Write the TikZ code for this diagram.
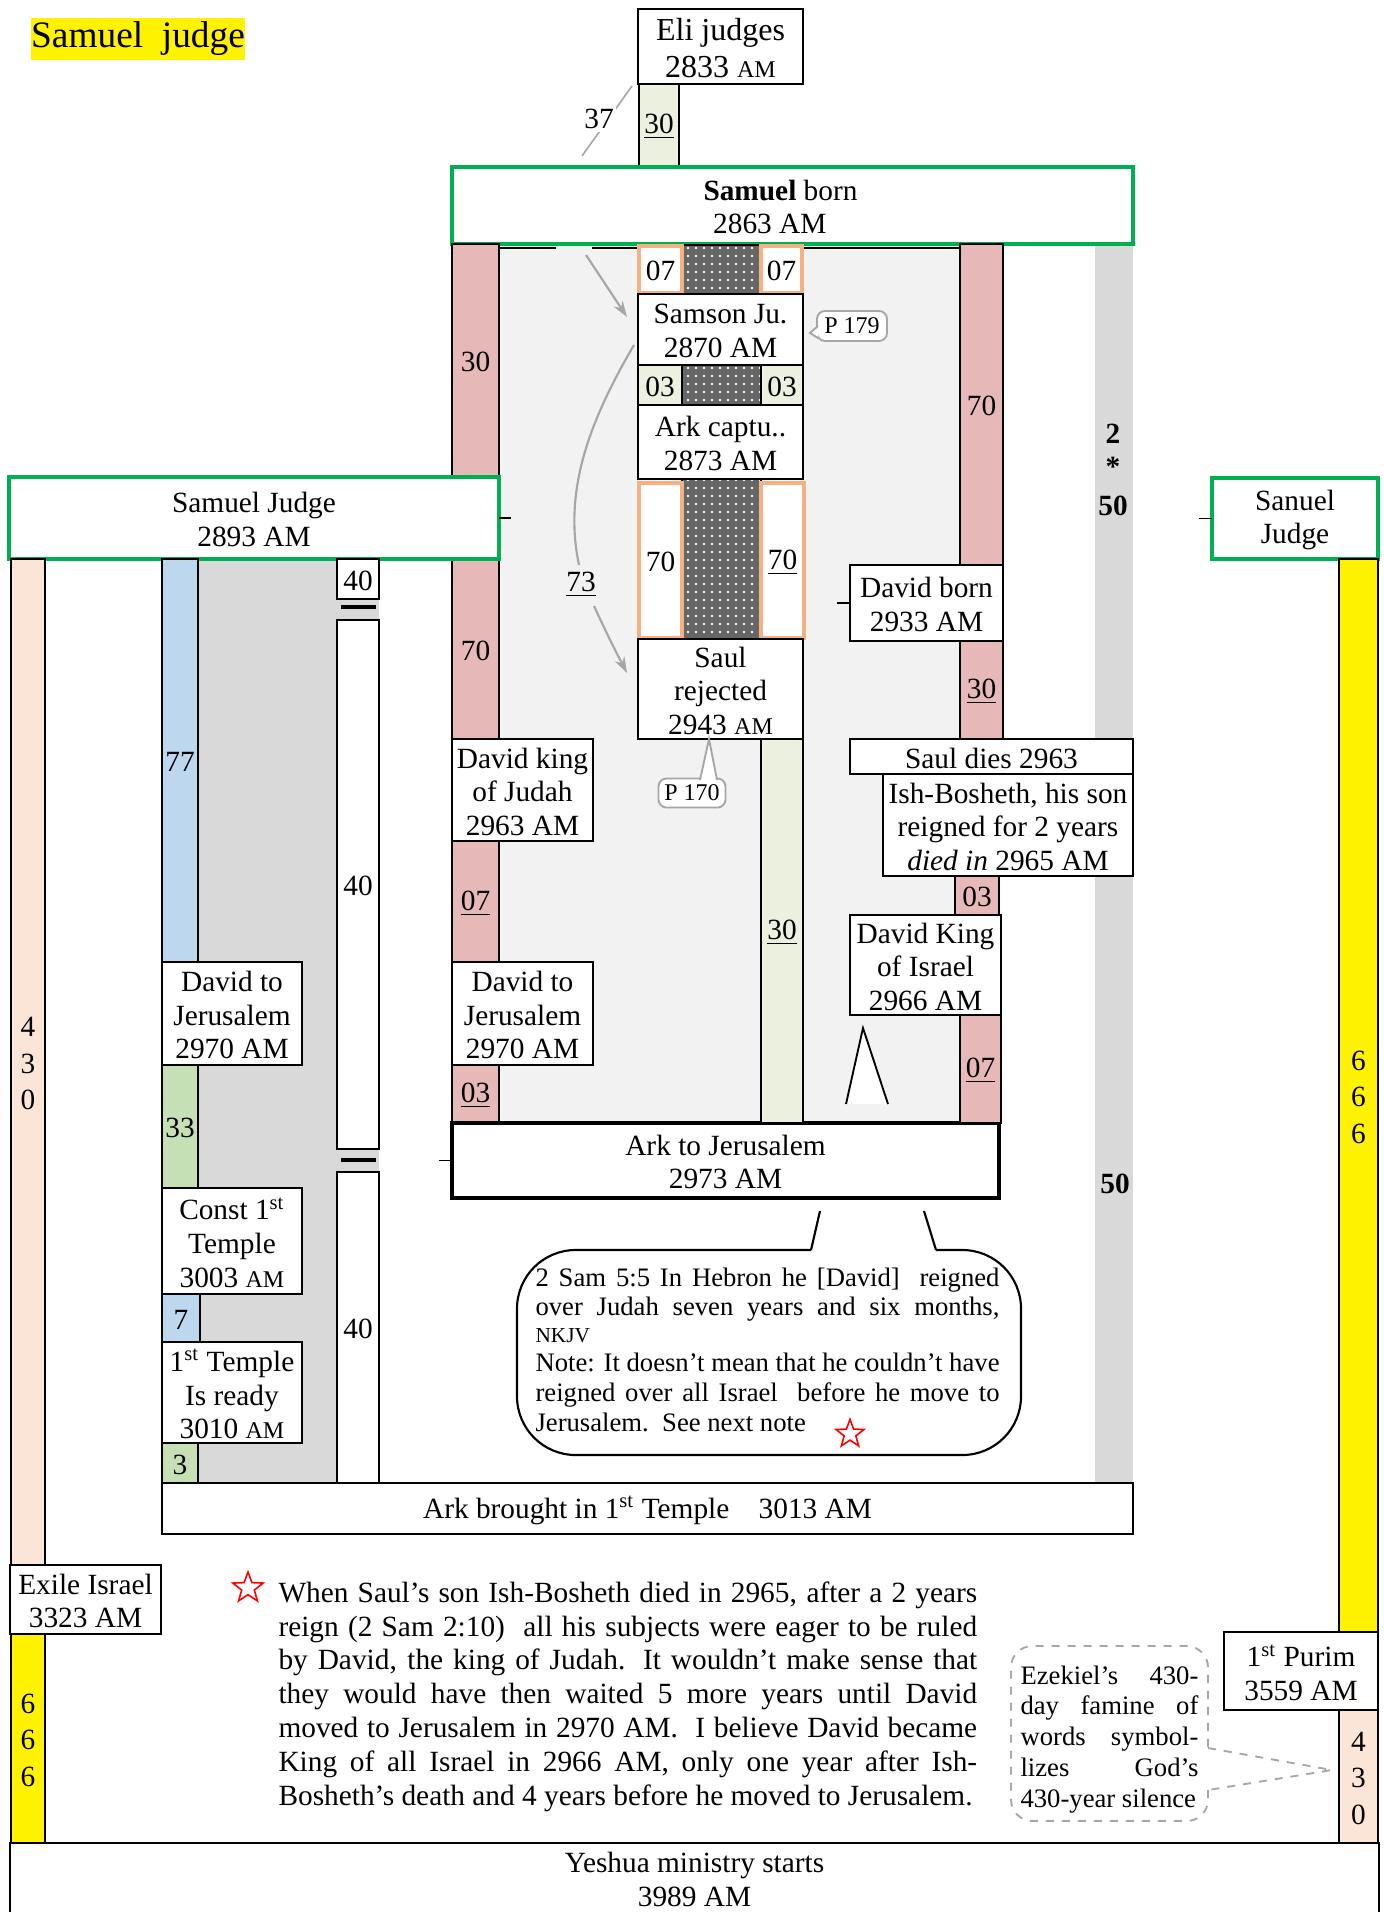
\documentclass[tikz,border=0pt]{standalone}
\usepackage{fontspec}
\setmainfont{Liberation Serif}
\usetikzlibrary{patterns,shapes.geometric,arrows.meta}
\definecolor{pinkc}{HTML}{E6B9B8}
\definecolor{lgreen}{HTML}{EBF1DE}
\definecolor{mgreen}{HTML}{C5E0B4}
\definecolor{bluec}{HTML}{BDD7EE}
\definecolor{peach}{HTML}{FBE5D6}
\definecolor{orangeb}{HTML}{F4B183}
\definecolor{greenb}{HTML}{00B050}
\definecolor{lgray}{HTML}{F2F2F2}
\definecolor{mgray}{HTML}{D9D9D9}
\definecolor{calloutc}{HTML}{A6A6A6}
\newcommand\smam{{\fontsize{9}{9}\selectfont AM}}
\newcommand\fsA{\fontsize{11}{12.6}\selectfont}
\newcommand\bx[7]{\node[#6,anchor=north west,minimum width={(#4-#2)*0.375pt},minimum height={(#5-#3)*0.375pt}] (#1) at (#2,#3) {};
  \node[#6,draw=none,fill=none,anchor=center] (#1t) at ([yshift=-0.6pt]#1.center) {#7};}
\newcommand\patt[4]{\fill[black!60] (#1,#2) rectangle (#3,#4);
  \fill[pattern=dots,pattern color=white] (#1,#2) rectangle (#3,#4);
  \draw[line width=0.5pt] (#1,#2) rectangle (#3,#4);}
\begin{document}
\begin{tikzpicture}[x=0.375pt,y=-0.375pt,
 box/.style={draw,fill=white,line width=0.7pt,inner sep=0pt,outer sep=0pt,align=center,font=\fsA},
 gbox/.style={box,draw=greenb,line width=1.4pt},
 tbox/.style={box,line width=1.2pt},
 pbar/.style={box,fill=pinkc},
 lgbar/.style={box,fill=lgreen},
 mgbar/.style={box,fill=mgreen},
 bbar/.style={box,fill=bluec},
 obox/.style={box,draw=orangeb,line width=1.5pt},
 ybar/.style={box,fill=yellow,font=\fontsize{11}{13.7}\selectfont},
 pcbar/.style={box,fill=peach,font=\fontsize{11}{13.7}\selectfont},
 wbar/.style={box},
 conn/.style={draw=calloutc,line width=0.8pt},
 arr/.style={conn,-{Stealth[length=6pt,width=4pt]}},
 lbl/.style={inner sep=0pt,font=\fsA},
 blbl/.style={inner sep=0pt,font=\fontsize{11}{12}\selectfont\bfseries},
 pcall/.style={draw=calloutc,line width=0.7pt,rounded corners=3pt,fill=white,inner sep=0pt,font=\fontsize{9}{10}\selectfont},
 rstar/.style={star,star points=5,star point ratio=2.4,draw=red,line width=0.6pt,inner sep=0pt},
]
\useasboundingbox (0,0) rectangle (1383,1912);
\fill[white] (0,0) rectangle (1383,1912);

% title
\node[fill=yellow,inner sep=0pt,minimum width=80pt,minimum height=16pt,font=\fontsize{14}{16}\selectfont] (title) at (138,39) {Samuel\ \ judge};

% backgrounds
\fill[lgray] (499,244) rectangle (960,1123);
\fill[mgray] (162,559) rectangle (379,1483);
\fill[mgray] (1095,244) rectangle (1133,1483);
\draw[line width=0.7pt] (499,248) -- (556,248) (592,248) -- (960,248);

% Eli
\bx{eli}{638}{9}{803}{84}{box,font=\fontsize{12}{14.2}\selectfont}{Eli judges\\2833 \smam}
\bx{b30a}{639}{84}{679}{166}{lgbar}{\underline{30}}
\coordinate (l37a) at (632,86);
\coordinate (l37b) at (582,156);
\draw[conn,line width=0.6pt] (l37a) -- (l37b);
\node[lbl,fill=white,inner sep=1pt] (n37) at (599,119) {37};

% Samuel born
\bx{sborn}{452}{167}{1133}{244}{gbox}{\textbf{Samuel} born\hspace*{9pt}\\2863 AM\hspace*{17pt}}

% left pink column
\bx{pl30}{452}{244}{499}{477}{pbar}{30}
\bx{pl70}{452}{559}{499}{739}{pbar}{70}
\bx{dkj}{452}{739}{593}{841}{box}{David king\\of Judah\\2963 AM}
\bx{pl07}{452}{841}{499}{962}{pbar}{\underline{07}}
\bx{djc}{452}{962}{593}{1065}{box}{David to\\Jerusalem\\2970 AM}
\bx{pl03}{452}{1065}{499}{1123}{pbar}{\underline{03}}
\bx{arkj}{452}{1123}{999}{1198}{tbox}{Ark to Jerusalem\\2973 AM}
\draw[line width=0.7pt] (arkj.west) -- ++(-13,0);

% center column
\patt{682}{245}{761}{294}
\patt{682}{365}{761}{405}
\patt{682}{479}{761}{639}
\bx{o07l}{639}{246}{682}{293}{obox}{07}
\bx{o07r}{761}{246}{802}{293}{obox}{07}
\bx{samson}{638}{294}{803}{365}{box}{Samson Ju.\\2870 AM}
\bx{g03l}{638}{365}{682}{405}{lgbar}{03}
\bx{g03r}{761}{365}{803}{405}{lgbar}{03}
\bx{arkc}{638}{405}{803}{479}{box}{Ark captu..\\2873 AM}
\bx{o70l}{639}{483}{682}{638}{obox}{70}
\bx{o70r}{761}{483}{804}{638}{obox}{\underline{70}}
\bx{saulr}{638}{639}{803}{739}{box}{Saul\\rejected\\2943 \smam}
\bx{g30c}{761}{739}{803}{1123}{lgbar}{\underline{30}}

% small callouts
\node[pcall,minimum width={70*0.375pt},minimum height={30*0.375pt}] (p179) at (852,326) {P 179};
\draw[draw=calloutc,line width=0.7pt,fill=white] (818,326) -- (810,333) -- (818,338);
\node[pcall,minimum width={67*0.375pt},minimum height={29*0.375pt}] (p170) at (692,793) {P 170};
\draw[draw=calloutc,line width=0.7pt,fill=white] (700,780) -- (709,739) -- (717,780);

% arrows
\coordinate (a1s) at (586,255);
\coordinate (a1e) at (627,317);
\draw[arr] (a1s) -- (a1e);
\coordinate (c1s) at (634,345);
\coordinate (c1e) at (579,565);
\draw[conn] (c1s) .. controls (590,420) and (563,490) .. (c1e);
\node[lbl] (n73) at (581,585) {\underline{73}};
\coordinate (a2s) at (594,606);
\coordinate (a2e) at (627,673);
\draw[arr] (a2s) .. controls (605,630) and (615,650) .. (a2e);

% right column
\bx{pr70}{960}{244}{1003}{565}{pbar}{70}
\bx{dborn}{850}{565}{1003}{641}{box}{David born\\2933 AM}
\draw[line width=0.7pt] (dborn.west) -- ++(-13,0);
\bx{pr30}{960}{641}{1003}{739}{pbar}{\underline{30}}
\bx{sauld}{850}{739}{1133}{774}{box}{Saul dies 2963}
\bx{ishb}{883}{774}{1133}{876}{box}{Ish-Bosheth, his son\\reigned for 2 years\\\textit{died in} 2965 AM}
\bx{pr03}{955}{876}{999}{915}{pbar}{03}
\bx{dki}{850}{915}{1001}{1015}{box}{David King\\of Israel\\2966 AM}
\bx{pr07}{960}{1015}{1001}{1123}{pbar}{\underline{07}}
\draw[line width=0.7pt,fill=white] (846,1104) -- (863,1028) -- (888,1104);

% gray band labels
\node[blbl] (g2) at (1113,434) {2};
\node[blbl] (gst) at (1113,467) {*};
\node[blbl] (g50a) at (1113,506) {50};
\node[blbl] (g50b) at (1115,1184) {50};

% left side
\bx{samj}{9}{477}{499}{559}{gbox}{Samuel Judge\\2893 AM}
\draw[line width=0.7pt] (samj.east) -- ++(12,0);
\bx{pc430l}{11}{559}{45}{1565}{pcbar}{4\\3\\0}
\bx{exile}{10}{1565}{161}{1634}{box}{Exile Israel\\3323 AM}
\bx{y666l}{11}{1634}{45}{1843}{ybar}{6\\6\\6}
\bx{yeshua}{10}{1843}{1379}{1913}{box}{Yeshua ministry starts\\3989 AM}

\bx{b77}{162}{559}{198}{962}{bbar}{77}
\bx{djl}{162}{962}{302}{1065}{box}{David to\\Jerusalem\\2970 AM}
\bx{g33}{162}{1065}{198}{1188}{mgbar}{33}
\bx{const}{162}{1188}{302}{1294}{box}{Const 1\textsuperscript{st}\\Temple\\3003 \smam}
\bx{b7}{162}{1294}{200}{1342}{bbar}{7}
\bx{tready}{162}{1342}{302}{1443}{box}{1\textsuperscript{st} Temple\\Is ready\\3010 \smam}
\bx{g3}{162}{1443}{198}{1483}{mgbar}{3}
\bx{w40a}{337}{559}{379}{599}{wbar}{40}
\draw[line width=1.2pt] (341,607) -- (376,607);
\bx{w40b}{337}{620}{379}{1149}{wbar}{40}
\draw[line width=1.2pt] (341,1160) -- (376,1160);
\bx{w40c}{337}{1172}{379}{1483}{wbar}{40}
\bx{arkb}{162}{1483}{1133}{1534}{box,line width=1pt}{Ark brought in 1\textsuperscript{st} Temple\quad 3013 AM}

% right side
\bx{sanj}{1212}{478}{1378}{559}{gbox}{Sanuel\\Judge}
\draw[line width=0.7pt] (sanj.west) -- ++(-13,0);
\bx{y666r}{1339}{559}{1378}{1632}{ybar}{6\\6\\6}
\bx{purim}{1224}{1632}{1378}{1710}{box}{1\textsuperscript{st} Purim\\3559 AM}
\bx{pc430r}{1339}{1710}{1378}{1843}{pcbar}{4\\3\\0}

% speech bubble
\draw[line width=0.8pt,rounded corners=22pt] (811,1250) -- (517,1250) -- (517,1455) -- (1021,1455) -- (1021,1250) -- (936,1250);
\draw[line width=0.8pt] (811,1250) -- (820,1211) (936,1250) -- (924,1211);
\node[anchor=north west,inner sep=0pt,align=left,font=\fontsize{10}{11.2}\selectfont] (bubtxt) at (535,1267)
 {\makebox[174pt][s]{2 Sam 5:5 In Hebron he [David]\ \ reigned}\\
  \makebox[174pt][s]{over Judah seven years and six months,}\\[-1.4pt]
  {\fontsize{8}{9}\selectfont NKJV}\\
  \makebox[174pt][s]{Note: It doesn’t mean that he couldn’t have}\\
  \makebox[174pt][s]{reigned over all Israel\ \ before he move to}\\
  Jerusalem.\ \ See next note};
\node[rstar,minimum size=11pt] (star1) at (850,1434) {};

% note
\node[rstar,minimum size=12pt] (star2) at (248,1588) {};
\node[anchor=north west,inner sep=0pt,align=left,font=\fontsize{11}{12.7}\selectfont] (note) at (278,1581)
 {\makebox[262pt][s]{When Saul’s son Ish-Bosheth died in 2965, after a 2 years}\\
  \makebox[262pt][s]{reign (2 Sam 2:10)\ \ all his subjects were eager to be ruled}\\
  \makebox[262pt][s]{by David, the king of Judah. It wouldn’t make sense that}\\
  \makebox[262pt][s]{they would have then waited 5 more years until David}\\
  \makebox[262pt][s]{moved to Jerusalem in 2970 AM.\ \ I believe David became}\\
  \makebox[262pt][s]{King of all Israel in 2966 AM, only one year after Ish-}\\
  Bosheth’s death and 4 years before he moved to Jerusalem.};

% Ezekiel callout
\draw[draw=calloutc,dashed,line width=0.7pt,rounded corners=8pt] (1208,1790) -- (1208,1821) -- (1011,1821) -- (1011,1646) -- (1208,1646) -- (1208,1748);
\draw[draw=calloutc,dashed,line width=0.7pt] (1208,1748) -- (1332,1770) -- (1208,1790);
\node[anchor=north west,inner sep=0pt,align=left,font=\fontsize{10}{11.6}\selectfont] (ezek) at (1020,1665)
 {\makebox[66.7pt][s]{Ezekiel’s 430-}\\
  \makebox[66.7pt][s]{day famine of}\\
  \makebox[66.7pt][s]{words symbol-}\\
  \makebox[66.7pt][s]{lizes God’s}\\
  430-year silence};
\end{tikzpicture}
\end{document}
